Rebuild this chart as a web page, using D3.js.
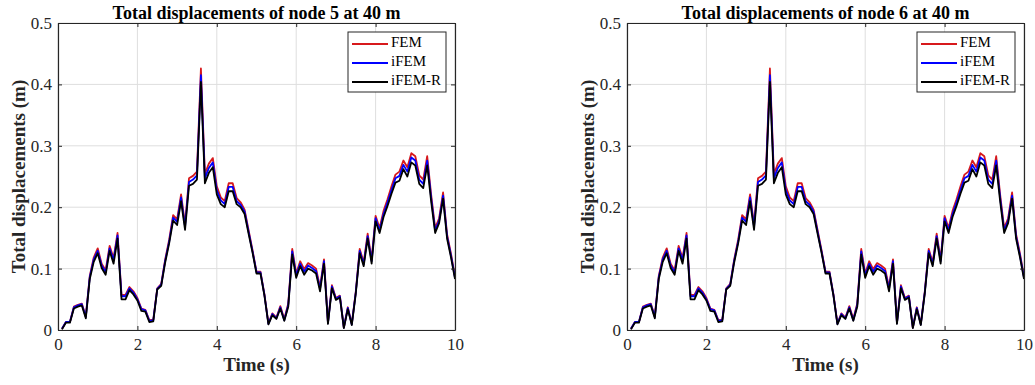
<!DOCTYPE html>
<html>
<head>
<meta charset="utf-8">
<script src="https://cdnjs.cloudflare.com/ajax/libs/d3/7.8.5/d3.min.js"></script>
<style>
    body { margin: 0; background: #fff; }
    svg { display: block; }
    text { font-family: "Liberation Serif", "Times New Roman", serif; }
</style>
</head>
<body>
<div id="chart"></div>
<script>
// time steps (s)
var timeSteps = [0.1, 0.2, 0.3, 0.4, 0.5, 0.6, 0.7, 0.8, 0.9, 1.0,
    1.1, 1.2, 1.3, 1.4, 1.5, 1.6, 1.7, 1.8, 1.9, 2.0,
    2.1, 2.2, 2.3, 2.4, 2.5, 2.6, 2.7, 2.8, 2.9, 3.0,
    3.1, 3.2, 3.3, 3.4, 3.5, 3.6, 3.7, 3.8, 3.9, 4.0,
    4.1, 4.2, 4.3, 4.4, 4.5, 4.6, 4.7, 4.8, 4.9, 5.0,
    5.1, 5.2, 5.3, 5.4, 5.5, 5.6, 5.7, 5.8, 5.9, 6.0,
    6.1, 6.2, 6.3, 6.4, 6.5, 6.6, 6.7, 6.8, 6.9, 7.0,
    7.1, 7.2, 7.3, 7.4, 7.5, 7.6, 7.7, 7.8, 7.9, 8.0,
    8.1, 8.2, 8.3, 8.4, 8.5, 8.6, 8.7, 8.8, 8.9, 9.0,
    9.1, 9.2, 9.3, 9.4, 9.5, 9.6, 9.7, 9.8, 9.9, 10.0]

var femValues = [0.002, 0.013, 0.013, 0.038, 0.041, 0.043, 0.022, 0.088, 0.118, 0.133,
    0.108, 0.097, 0.137, 0.117, 0.158, 0.057, 0.057, 0.070, 0.063, 0.052,
    0.035, 0.033, 0.016, 0.017, 0.068, 0.075, 0.115, 0.147, 0.187, 0.180,
    0.221, 0.172, 0.247, 0.251, 0.258, 0.426, 0.254, 0.271, 0.280, 0.234,
    0.216, 0.210, 0.239, 0.239, 0.215, 0.208, 0.196, 0.163, 0.130, 0.095,
    0.095, 0.058, 0.011, 0.027, 0.020, 0.039, 0.018, 0.043, 0.132, 0.092,
    0.112, 0.099, 0.109, 0.105, 0.100, 0.070, 0.115, 0.012, 0.073, 0.052,
    0.056, 0.004, 0.037, 0.010, 0.062, 0.132, 0.110, 0.157, 0.115, 0.186,
    0.166, 0.194, 0.213, 0.234, 0.253, 0.258, 0.276, 0.265, 0.288, 0.283,
    0.252, 0.245, 0.283, 0.220, 0.166, 0.182, 0.224, 0.156, 0.124, 0.087]

var ifemValues = [0.002, 0.013, 0.013, 0.037, 0.040, 0.042, 0.021, 0.086, 0.115, 0.129,
    0.105, 0.094, 0.133, 0.114, 0.154, 0.055, 0.055, 0.068, 0.061, 0.050,
    0.034, 0.032, 0.015, 0.016, 0.067, 0.074, 0.113, 0.144, 0.183, 0.176,
    0.216, 0.168, 0.241, 0.245, 0.252, 0.415, 0.247, 0.264, 0.273, 0.228,
    0.211, 0.205, 0.233, 0.233, 0.210, 0.204, 0.193, 0.160, 0.128, 0.094,
    0.094, 0.057, 0.010, 0.026, 0.019, 0.037, 0.016, 0.041, 0.128, 0.089,
    0.108, 0.095, 0.105, 0.101, 0.096, 0.067, 0.112, 0.011, 0.071, 0.051,
    0.055, 0.004, 0.036, 0.009, 0.061, 0.129, 0.107, 0.153, 0.112, 0.182,
    0.162, 0.189, 0.208, 0.228, 0.247, 0.251, 0.269, 0.258, 0.281, 0.276,
    0.245, 0.238, 0.276, 0.215, 0.162, 0.178, 0.219, 0.153, 0.121, 0.085]

var ifemRValues = [0.001, 0.012, 0.012, 0.035, 0.038, 0.040, 0.019, 0.083, 0.111, 0.125,
    0.101, 0.090, 0.129, 0.108, 0.149, 0.050, 0.050, 0.065, 0.058, 0.048,
    0.031, 0.030, 0.013, 0.014, 0.066, 0.072, 0.110, 0.141, 0.178, 0.171,
    0.210, 0.163, 0.235, 0.238, 0.245, 0.404, 0.239, 0.256, 0.265, 0.221,
    0.205, 0.200, 0.226, 0.226, 0.205, 0.200, 0.189, 0.157, 0.126, 0.092,
    0.092, 0.056, 0.009, 0.024, 0.018, 0.035, 0.015, 0.038, 0.123, 0.085,
    0.104, 0.090, 0.100, 0.097, 0.092, 0.063, 0.108, 0.010, 0.068, 0.049,
    0.053, 0.003, 0.034, 0.008, 0.059, 0.125, 0.104, 0.149, 0.108, 0.177,
    0.158, 0.184, 0.202, 0.222, 0.240, 0.243, 0.262, 0.250, 0.273, 0.268,
    0.238, 0.231, 0.268, 0.209, 0.158, 0.174, 0.214, 0.149, 0.118, 0.083]

var seriesNames = ["FEM", "iFEM", "iFEM-R"]
var seriesColors = ["#d7191c", "#0000ff", "#000000"]
var xTicks = [0, 2, 4, 6, 8, 10]
var yTicks = [0, 0.1, 0.2, 0.3, 0.4, 0.5]
var panelTitles = ["Total displacements of node 5 at 40 m", "Total displacements of node 6 at 40 m"]

var fullWidth = 1035, fullHeight = 385

var svg = d3.select("#chart")
    .append("svg")
        .attr("width", fullWidth)
        .attr("height", fullHeight)

function displacement_chart(config){
    var margin = { left: config.left, top: 23 }
    var width = 397, height = 307

    var g = svg.append("g")
        .attr("transform", "translate(" + margin.left + "," + margin.top + ")")

    var x = d3.scaleLinear().domain([0, 10]).range([0, width])
    var y = d3.scaleLinear().domain([0, 0.5]).range([height, 0])

    // grid
    g.append("g").selectAll("line.vgrid")
        .data(xTicks)
        .enter().append("line")
            .attr("x1", d => x(d)).attr("x2", d => x(d))
            .attr("y1", 0).attr("y2", height)
            .attr("stroke", "#dedede")
            .attr("stroke-width", 1)
    g.append("g").selectAll("line.hgrid")
        .data(yTicks)
        .enter().append("line")
            .attr("y1", d => y(d)).attr("y2", d => y(d))
            .attr("x1", 0).attr("x2", width)
            .attr("stroke", "#dedede")
            .attr("stroke-width", 1)

    // the series
    var rows = timeSteps.map(function(t, i){
        return { t: t, vals: [femValues[i], ifemValues[i], ifemRValues[i]] }
    })

    seriesNames.forEach(function(name, k){
        var line = d3.line()
            .x(d => x(d.t))
            .y(d => y(d.vals[k]))
        g.append("path")
            .datum(rows)
            .attr("fill", "none")
            .attr("stroke", seriesColors[k])
            .attr("stroke-width", 1.8)
            .attr("stroke-linejoin", "round")
            .attr("d", line)
    })

    // axes, MATLAB style with inward ticks on all four sides
    var axisColor = "#262626"
    var xBottom = g.append("g")
        .attr("transform", "translate(0," + height + ")")
        .call(d3.axisBottom(x).tickValues(xTicks).tickSizeInner(-4).tickSizeOuter(0).tickPadding(8))
    var xTop = g.append("g")
        .call(d3.axisTop(x).tickValues(xTicks).tickSizeInner(-4).tickSizeOuter(0).tickFormat(""))
    var yLeft = g.append("g")
        .call(d3.axisLeft(y).tickValues(yTicks).tickSizeInner(-4).tickSizeOuter(0).tickPadding(6)
            .tickFormat(d => d === 0 ? "0" : d3.format(".1f")(d)))
    var yRight = g.append("g")
        .attr("transform", "translate(" + width + ",0)")
        .call(d3.axisRight(y).tickValues(yTicks).tickSizeInner(-4).tickSizeOuter(0).tickFormat(""))

    ;[xBottom, xTop, yLeft, yRight].forEach(function(a){
        a.select(".domain").attr("stroke", axisColor).attr("stroke-width", 1.2)
        a.selectAll(".tick line").attr("stroke", axisColor).attr("stroke-width", 1)
        a.selectAll(".tick text")
            .attr("fill", "#262626")
            .style("font-family", "'Liberation Serif', serif")
            .style("font-size", "17px")
    })

    // title and axis labels
    g.append("text")
        .attr("x", width/2)
        .attr("y", -4)
        .attr("text-anchor", "middle")
        .attr("font-size", "18px")
        .attr("font-weight", "bold")
        .attr("fill", "#000")
        .text(config.title)

    g.append("text")
        .attr("transform", "rotate(-90)")
        .attr("x", -height/2)
        .attr("y", -33)
        .attr("text-anchor", "middle")
        .attr("font-size", "19px")
        .attr("font-weight", "bold")
        .attr("fill", "#262626")
        .text("Total displacements (m)")

    g.append("text")
        .attr("x", width/2)
        .attr("y", height + 41)
        .attr("text-anchor", "middle")
        .attr("font-size", "19px")
        .attr("font-weight", "bold")
        .attr("fill", "#262626")
        .text("Time (s)")

    // legend
    var legend = g.append("g")
        .attr("transform", "translate(" + (width - 107) + "," + 9 + ")")

    legend.append("rect")
        .attr("x", 0)
        .attr("y", 0)
        .attr("width", 98)
        .attr("height", 60)
        .attr("fill", "#fff")
        .attr("stroke", "#262626")
        .attr("stroke-width", 1)

    seriesNames.forEach(function(name, k){
        var ly = 12 + k*19
        legend.append("line")
            .attr("x1", 4).attr("x2", 40)
            .attr("y1", ly).attr("y2", ly)
            .attr("stroke", seriesColors[k])
            .attr("stroke-width", 1.8)
        legend.append("text")
            .attr("x", 43)
            .attr("y", ly)
            .attr("dominant-baseline", "middle")
            .attr("font-size", "15px")
            .attr("fill", "#000")
            .text(name)
    })
}

displacement_chart({ left: 58, title: panelTitles[0] })
displacement_chart({ left: 627, title: panelTitles[1] })
</script>
</body>
</html>
